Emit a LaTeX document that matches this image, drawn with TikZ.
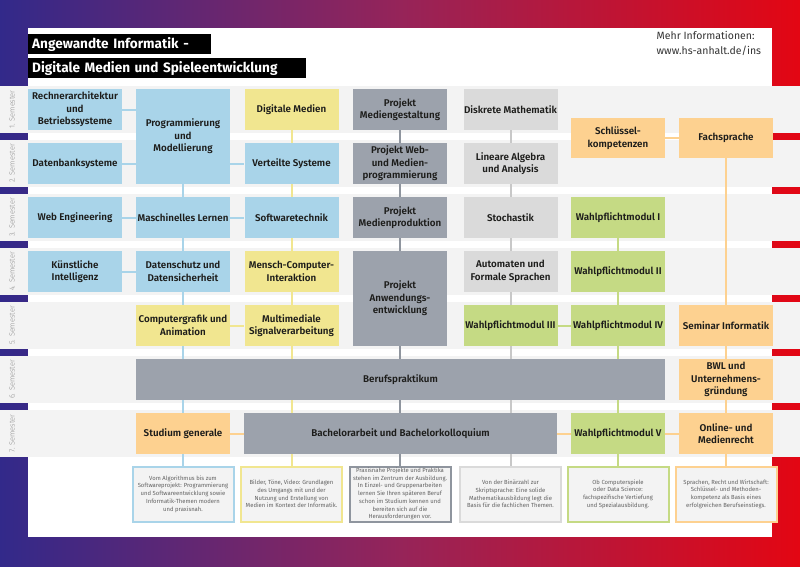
\documentclass[tikz,border=0pt]{standalone}
\usepackage{fontspec}
\setmainfont{Fira Sans}
\newfontfamily\semib{Fira Sans SemiBold}
\newfontfamily\lightf{Fira Sans Light}
\definecolor{cpurple}{HTML}{32298A}
\definecolor{cmid}{HTML}{962459}
\definecolor{cred}{HTML}{E30613}
\definecolor{crow}{HTML}{F3F3F3}
\definecolor{cblue}{HTML}{A9D4E9}
\definecolor{cyellow}{HTML}{F1E690}
\definecolor{cdgrey}{HTML}{9CA2AC}
\definecolor{clgrey}{HTML}{DADADA}
\definecolor{cgreen}{HTML}{C5DA84}
\definecolor{corange}{HTML}{FDD190}
\definecolor{ctext}{HTML}{1D1D1B}
\definecolor{cdesc}{HTML}{626262}
\definecolor{csem}{HTML}{8C8C8C}
\definecolor{cinfo}{HTML}{333333}
\definecolor{cdline}{HTML}{8F959E}
\definecolor{clline}{HTML}{C8C8C8}
\tikzset{
  mod/.style={inner sep=0pt, minimum width=94pt, minimum height=41pt, align=center,
    font=\semib\fontsize{9.8}{12.5}\selectfont, text=ctext},
  bl/.style={mod, fill=cblue},
  ye/.style={mod, fill=cyellow},
  dg/.style={mod, fill=cdgrey},
  lg/.style={mod, fill=clgrey},
  gr/.style={mod, fill=cgreen},
  ors/.style={mod, fill=corange},
  desc/.style={draw, line width=2pt, fill=crow, minimum width=101pt, minimum height=55pt,
    align=center, inner sep=0pt, font=\fontsize{5.9}{7.7}\selectfont, text=cdesc},
  cn/.style={line width=2pt},
  lb/.style={cn, draw=cblue},
  ly/.style={cn, draw=cyellow},
  ld/.style={cn, draw=cdline},
  ll/.style={cn, draw=clline},
  lgr/.style={cn, draw=cgreen},
  lo/.style={cn, draw=corange},
  ttl/.style={fill=black, text=white, anchor=west, inner xsep=4pt, inner ysep=0pt,
    minimum height=20pt, align=left, font=\bfseries\fontsize{13.6}{15}\selectfont},
  sem/.style={rotate=90, inner sep=0pt, font=\lightf\fontsize{7.4}{8}\selectfont, text=csem},
}
\begin{document}
\begin{tikzpicture}[x=1pt,y=-1pt]
\useasboundingbox (0,0) rectangle (800,566);
% frame
\shade[left color=cpurple, right color=cred, middle color=cmid] (0,0) rectangle (800,566);
\fill[white] (28,28) rectangle (772,537);
\foreach \i in {0,...,6} \fill[crow] (0,{86+54*\i}) rectangle (800,{133+54*\i});
\foreach \i in {1,...,7} \node[sem] (sem\i) at (12,{109.5+54*(\i-1)}) {\i. Semester};
% title
\node[ttl, text width=175pt] (t1) at (28,44) {Angewandte Informatik -};
\node[ttl, text width=270pt] (t2) at (28,68) {Digitale Medien und Spieleentwicklung};
\node[anchor=base west, align=left, inner sep=0pt, font=\fontsize{10.5}{15}\selectfont, text=cinfo] (info) at (656.5,54) {Mehr Informationen:\\www.hs-anhalt.de/ins};
% row 1
\node[bl] (ra) at (75,109.5) {Rechnerarchitektur\\und\\Betriebssysteme};
\node[bl, minimum height=95pt] (pm) at (183,136.5) {Programmierung\\und\\Modellierung};
\node[ye] (dm) at (291.5,109.5) {Digitale Medien};
\node[dg] (pmg) at (400,109.5) {Projekt\\Mediengestaltung};
\node[lg] (dma) at (510.5,109.5) {Diskrete Mathematik};
\node[ors, minimum height=40pt] (sk) at (618,138) {Schlüssel-\\kompetenzen};
\node[ors, minimum height=40pt] (fs) at (726,138) {Fachsprache};
% row 2
\node[bl] (db) at (75,163.5) {Datenbanksysteme};
\node[bl] (vs) at (291.5,163.5) {Verteilte Systeme};
\node[dg] (pwm) at (400,163.5) {Projekt Web-\\und Medien-\\programmierung};
\node[lg] (la) at (510.5,163.5) {Lineare Algebra\\und Analysis};
% row 3
\node[bl] (we) at (75,217.5) {Web Engineering};
\node[bl] (ml) at (183,217.5) {Maschinelles Lernen};
\node[bl] (sw) at (291.5,217.5) {Softwaretechnik};
\node[dg] (pmp) at (400,217.5) {Projekt\\Medienproduktion};
\node[lg] (st) at (510.5,217.5) {Stochastik};
\node[gr] (w1) at (618,217.5) {Wahlpflichtmodul I};
% row 4
\node[bl] (ki) at (75,271.5) {Künstliche\\Intelligenz};
\node[bl] (ds) at (183,271.5) {Datenschutz und\\Datensicherheit};
\node[ye] (mci) at (291.5,271.5) {Mensch-Computer-\\Interaktion};
\node[dg, minimum height=95pt] (pae) at (400,298.5) {Projekt\\Anwendungs-\\entwicklung};
\node[lg] (af) at (510.5,271.5) {Automaten und\\Formale Sprachen};
\node[gr] (w2) at (618,271.5) {Wahlpflichtmodul II};
% row 5
\node[ye] (cg) at (183,325.5) {Computergrafik und\\Animation};
\node[ye] (mm) at (291.5,325.5) {Multimediale\\Signalverarbeitung};
\node[gr] (w3) at (510.5,325.5) {Wahlpflichtmodul III};
\node[gr] (w4) at (618,325.5) {Wahlpflichtmodul IV};
\node[ors] (si) at (726,325.5) {Seminar Informatik};
% row 6
\node[dg, minimum width=529pt] (bp) at (400.5,379.5) {Berufspraktikum};
\node[ors] (bwl) at (726,379.5) {BWL und\\Unternehmens-\\gründung};
% row 7
\node[ors] (sg) at (183,433.5) {Studium generale};
\node[dg, minimum width=313pt] (ba) at (400.5,433.5) {Bachelorarbeit und Bachelorkolloquium};
\node[gr] (w5) at (618,433.5) {Wahlpflichtmodul V};
\node[ors] (onl) at (726,433.5) {Online- und\\Medienrecht};
% descriptions
\node[desc, draw=cblue] (d1) at (183,494) {Vom Algorithmus bis zum\\Softwareprojekt: Programmierung\\und Softwareentwicklung sowie\\Informatik-Themen modern\\und praxisnah.};
\node[desc, draw=cyellow] (d2) at (291.5,494) {Bilder, Töne, Video: Grundlagen\\des Umgangs mit und der\\Nutzung und Erstellung von\\Medien im Kontext der Informatik.};
\node[desc, draw=cdline] (d3) at (400,494) {Praxisnahe Projekte und Praktika\\stehen im Zentrum der Ausbildung.\\In Einzel- und Gruppenarbeiten\\lernen Sie Ihren späteren Beruf\\schon im Studium kennen und\\bereiten sich auf die\\Herausforderungen vor.};
\node[desc, draw=clgrey] (d4) at (510.5,494) {Von der Binärzahl zur\\Skriptsprache: Eine solide\\Mathematikausbildung legt die\\Basis für die fachlichen Themen.};
\node[desc, draw=cgreen] (d5) at (618,494) {Ob Computerspiele\\oder Data Science:\\fachspezifische Vertiefung\\und Spezialausbildung.};
\node[desc, draw=corange] (d6) at (726,494) {Sprachen, Recht und Wirtschaft:\\Schlüssel- und Methoden-\\kompetenz als Basis eines\\erfolgreichen Berufseinstiegs.};
% connectors: blue
\draw[lb] (ra.east) -- (ra.east -| pm.west);
\draw[lb] (db.east) -- (db.east -| pm.west);
\draw[lb] (pm.east |- vs.west) -- (vs.west);
\draw[lb] (we) -- (ml);
\draw[lb] (ml) -- (sw);
\draw[lb] (ki) -- (ds);
\draw[lb] (pm) -- (ml);
\draw[lb] (ml) -- (ds);
\draw[lb] (ds) -- (cg);
\draw[lb] (cg) -- (cg |- bp.north);
\draw[lb] (cg |- bp.south) -- (sg);
\draw[lb] (sg) -- (d1);
% yellow
\draw[ly] (dm) -- (vs);
\draw[ly] (vs) -- (sw);
\draw[ly] (sw) -- (mci);
\draw[ly] (mci) -- (mm);
\draw[ly] (cg) -- (mm);
\draw[ly] (mm) -- (mm |- bp.north);
\draw[ly] (mm |- bp.south) -- (mm |- ba.north);
\draw[ly] (mm |- ba.south) -- (d2);
% dark grey
\draw[ld] (pmg) -- (pwm);
\draw[ld] (pwm) -- (pmp);
\draw[ld] (pmp) -- (pae);
\draw[ld] (pae) -- (pae |- bp.north);
\draw[ld] (pae |- bp.south) -- (pae |- ba.north);
\draw[ld] (pae |- ba.south) -- (d3);
% light grey
\draw[ll] (dma) -- (la);
\draw[ll] (la) -- (st);
\draw[ll] (st) -- (af);
\draw[ll] (af) -- (w3);
\draw[ll] (w3) -- (w3 |- bp.north);
\draw[ll] (w3 |- bp.south) -- (w3 |- ba.north);
\draw[ll] (w3 |- ba.south) -- (d4);
% green
\draw[lgr] (w1) -- (w2);
\draw[lgr] (w2) -- (w4);
\draw[lgr] (w3) -- (w4);
\draw[lgr] (w4) -- (w4 |- bp.north);
\draw[lgr] (w4 |- bp.south) -- (w5);
\draw[lgr] (w5) -- (d5);
% orange
\draw[lo] (sk) -- (fs);
\draw[lo] (fs) -- (si);
\draw[lo] (si) -- (bwl);
\draw[lo] (bwl) -- (onl);
\draw[lo] (onl) -- (d6);
\draw[lo] (sg) -- (ba);
\draw[lo] (ba) -- (w5);
\draw[lo] (w5) -- (onl);
\end{tikzpicture}
\end{document}
